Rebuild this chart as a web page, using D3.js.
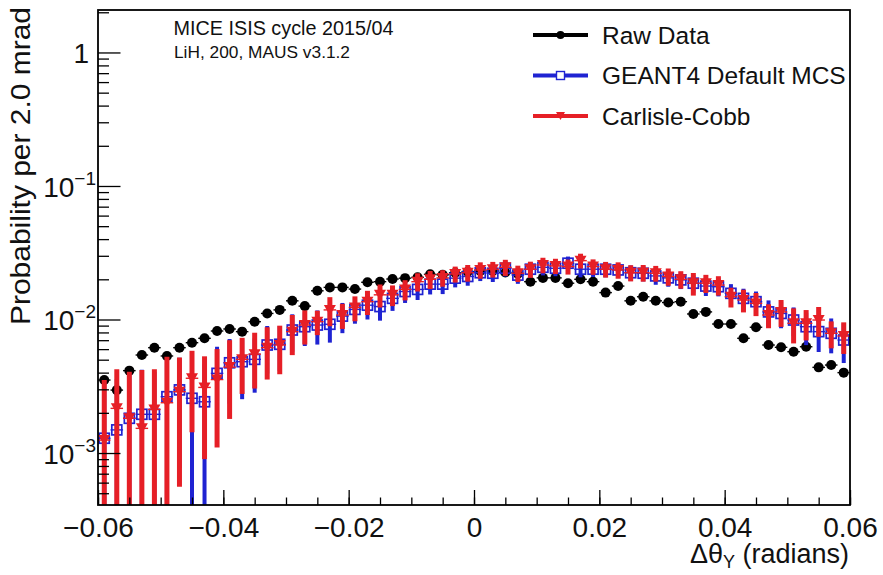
<!DOCTYPE html>
<html>
<head>
<meta charset="utf-8">
<script src="https://d3js.org/d3.v7.min.js"></script>
<style>
  body { margin: 0; background: #fff; }
  text { font-family: "Liberation Sans", Arial, Helvetica, sans-serif; }
</style>
</head>
<body>
<svg id="chart" width="883" height="575"></svg>
<script>
// bins: 60 bins of 2 mrad between -0.06 and 0.06
const binLow = -0.06, binWidth = 0.002, nBins = 60;
const binCenters = d3.range(nBins).map(i => binLow + binWidth * (i + 0.5));

// Raw Data
const rawData = [
  3.52e-3, 2.96e-3, 4.14e-3, 5.42e-3, 6.15e-3, 5.33e-3, 6.15e-3, 6.70e-3, 7.23e-3, 8.20e-3,
  8.49e-3, 8.11e-3, 9.63e-3, 1.11e-2, 1.18e-2, 1.38e-2, 1.26e-2, 1.64e-2, 1.74e-2, 1.74e-2,
  1.69e-2, 1.90e-2, 1.92e-2, 2.01e-2, 2.04e-2, 2.07e-2, 2.18e-2, 2.16e-2, 2.24e-2, 2.28e-2,
  2.31e-2, 2.31e-2, 2.25e-2, 2.20e-2, 1.92e-2, 2.05e-2, 2.05e-2, 1.87e-2, 2.00e-2, 1.92e-2,
  1.59e-2, 1.78e-2, 1.38e-2, 1.48e-2, 1.38e-2, 1.34e-2, 1.36e-2, 1.10e-2, 1.14e-2, 9.25e-3,
  9.25e-3, 7.23e-3, 8.75e-3, 6.44e-3, 6.19e-3, 5.74e-3, 6.25e-3, 4.38e-3, 4.56e-3, 4.00e-3
];

// GEANT4 Default MCS
const geantData = [
  1.29e-3, 1.49e-3, 1.82e-3, 1.95e-3, 1.95e-3, 2.64e-3, 2.97e-3, 2.57e-3, 2.42e-3, 3.95e-3,
  4.74e-3, 4.83e-3, 5.03e-3, 6.44e-3, 6.52e-3, 8.34e-3, 8.83e-3, 9.09e-3, 9.21e-3, 1.06e-2,
  1.19e-2, 1.28e-2, 1.25e-2, 1.44e-2, 1.62e-2, 1.68e-2, 1.84e-2, 1.84e-2, 2.04e-2, 2.10e-2,
  2.24e-2, 2.22e-2, 2.42e-2, 2.15e-2, 2.38e-2, 2.46e-2, 2.42e-2, 2.64e-2, 2.38e-2, 2.38e-2,
  2.38e-2, 2.35e-2, 2.24e-2, 2.22e-2, 2.12e-2, 2.05e-2, 1.98e-2, 1.87e-2, 1.78e-2, 1.76e-2,
  1.57e-2, 1.44e-2, 1.36e-2, 1.14e-2, 1.11e-2, 9.91e-3, 8.83e-3, 8.11e-3, 7.88e-3, 7.02e-3
];
const geantErr = [
  2.2e-3, 2.1e-3, 2.2e-3, 2.25e-3, 2.1e-3, 2.3e-3, 2.2e-3, 2.3e-3, 2.2e-3, 2.3e-3,
  2.4e-3, 2.3e-3, 2.2e-3, 2.5e-3, 2.4e-3, 2.6e-3, 2.5e-3, 2.6e-3, 2.5e-3, 2.7e-3,
  2.6e-3, 2.8e-3, 2.7e-3, 2.8e-3, 2.9e-3, 2.8e-3, 3.0e-3, 2.9e-3, 3.0e-3, 3.1e-3,
  3.0e-3, 3.1e-3, 3.2e-3, 3.0e-3, 3.1e-3, 3.2e-3, 3.1e-3, 3.2e-3, 3.1e-3, 3.0e-3,
  3.1e-3, 3.0e-3, 3.0e-3, 2.9e-3, 3.0e-3, 2.9e-3, 2.9e-3, 2.8e-3, 2.8e-3, 2.7e-3,
  2.7e-3, 2.6e-3, 2.6e-3, 2.5e-3, 2.5e-3, 2.4e-3, 2.4e-3, 2.4e-3, 2.3e-3, 2.3e-3
];

// Carlisle-Cobb
const ccData = [
  1.25e-3, 2.16e-3, 1.82e-3, 1.53e-3, 2.12e-3, 2.38e-3, 2.88e-3, 3.63e-3, 3.10e-3, 3.55e-3,
  4.40e-3, 5.03e-3, 5.50e-3, 6.15e-3, 6.44e-3, 8.11e-3, 9.09e-3, 9.63e-3, 1.18e-2, 1.08e-2,
  1.23e-2, 1.36e-2, 1.53e-2, 1.53e-2, 1.68e-2, 1.92e-2, 2.00e-2, 2.05e-2, 2.19e-2, 2.24e-2,
  2.35e-2, 2.38e-2, 2.46e-2, 2.22e-2, 2.38e-2, 2.56e-2, 2.52e-2, 2.49e-2, 2.76e-2, 2.49e-2,
  2.38e-2, 2.35e-2, 2.24e-2, 2.24e-2, 2.22e-2, 2.10e-2, 2.00e-2, 1.87e-2, 1.87e-2, 1.81e-2,
  1.48e-2, 1.40e-2, 1.32e-2, 1.08e-2, 1.14e-2, 9.37e-3, 9.37e-3, 9.91e-3, 7.88e-3, 7.52e-3
];
const ccErr = [
  2.27e-3, 2.08e-3, 2.24e-3, 2.65e-3, 2.12e-3, 2.88e-3, 2.32e-3, 2.2e-3, 2.2e-3, 2.45e-3,
  2.6e-3, 2.26e-3, 2.46e-3, 2.6e-3, 2.55e-3, 2.7e-3, 2.6e-3, 2.0e-3, 2.9e-3, 2.3e-3,
  2.6e-3, 2.8e-3, 3.0e-3, 2.7e-3, 2.9e-3, 3.0e-3, 3.1e-3, 2.9e-3, 3.0e-3, 3.2e-3,
  3.3e-3, 3.2e-3, 3.4e-3, 3.1e-3, 3.3e-3, 3.4e-3, 3.3e-3, 3.2e-3, 3.5e-3, 3.3e-3,
  3.2e-3, 3.3e-3, 3.1e-3, 3.2e-3, 3.0e-3, 3.1e-3, 3.0e-3, 3.6e-3, 2.9e-3, 3.0e-3,
  2.5e-3, 2.7e-3, 2.6e-3, 2.2e-3, 2.6e-3, 2.75e-3, 2.4e-3, 2.5e-3, 1.8e-3, 2.0e-3
];

const xTicks = [-0.06, -0.04, -0.02, 0, 0.02, 0.04, 0.06];
const yTicks = [1e-3, 1e-2, 1e-1, 1];
const legendNames = ['Raw Data', 'GEANT4 Default MCS', 'Carlisle-Cobb'];

const red = '#e61f26', blue = '#1f23d2';

const frame = {left: 98, right: 850, top: 10, bottom: 505};
const svg = d3.select('#chart');

const x = d3.scaleLinear().domain([-0.06, 0.06]).range([frame.left, frame.right]);
const y = d3.scaleLog().domain([4.08e-4, 2.08]).range([frame.bottom, frame.top]);

svg.append('clipPath').attr('id', 'plotclip')
   .append('rect')
   .attr('x', frame.left).attr('y', frame.top)
   .attr('width', frame.right - frame.left).attr('height', frame.bottom - frame.top);

const plot = svg.append('g').attr('clip-path', 'url(#plotclip)');

// draw one series: vertical errors, x errors, markers
function drawSeries(vals, errs, color, barWidth, marker){
  const g = plot.append('g');
  const pts = vals.map((v, i) => ({x: binCenters[i], v: v, e: errs ? errs[i] : 0}));
  if(errs){
    g.selectAll('line.ey').data(pts).enter().append('line')
     .attr('x1', d => x(d.x)).attr('x2', d => x(d.x))
     .attr('y1', d => y(d.v + d.e))
     .attr('y2', d => d.v - d.e > 1e-5 ? y(d.v - d.e) : frame.bottom + 5)
     .attr('stroke', color).attr('stroke-width', barWidth);
  }
  g.selectAll('line.ex').data(pts).enter().append('line')
   .attr('x1', d => x(d.x - binWidth / 2)).attr('x2', d => x(d.x + binWidth / 2))
   .attr('y1', d => y(d.v)).attr('y2', d => y(d.v))
   .attr('stroke', color).attr('stroke-width', 1.4);
  g.selectAll('.mk').data(pts).enter().append('g')
   .attr('transform', d => `translate(${x(d.x)},${y(d.v)})`)
   .each(function(){ marker(d3.select(this), color); });
}

const dot = (s, c) => s.append('circle').attr('r', 5).attr('fill', c);
const square = (s, c) => s.append('rect').attr('x', -5).attr('y', -5)
                          .attr('width', 10).attr('height', 10)
                          .attr('fill', 'none').attr('stroke', c).attr('stroke-width', 1.7);
const tri = (s, c) => s.append('path').attr('d', 'M-6,-5L6,-5L0,5.5Z').attr('fill', c);

drawSeries(rawData, null, '#000', 0, dot);
drawSeries(geantData, geantErr, blue, 4, square);
drawSeries(ccData, ccErr, red, 5, tri);

// frame
svg.append('rect')
   .attr('x', frame.left).attr('y', frame.top)
   .attr('width', frame.right - frame.left).attr('height', frame.bottom - frame.top)
   .attr('fill', 'none').attr('stroke', '#000').attr('stroke-width', 1.8);

// x axis, ticks pointing inwards
const xMinor = d3.range(-0.06, 0.0601, 0.005);
const xAxisG = svg.append('g').attr('transform', `translate(0,${frame.bottom})`);
xAxisG.append('g')
      .call(d3.axisBottom(x).tickValues(xMinor).tickSize(-7.5).tickFormat(''))
      .call(g => g.select('.domain').remove());
xAxisG.append('g')
      .call(d3.axisBottom(x).tickValues(xTicks).tickSize(-15).tickPadding(12)
              .tickFormat(d => d === 0 ? '0' : d3.format('.2f')(d)))
      .call(g => g.select('.domain').remove())
      .call(g => g.selectAll('text').attr('font-size', 28).attr('fill', '#111')
                  .attr('font-family', '"Liberation Sans", Arial, sans-serif'));
xAxisG.selectAll('line').attr('stroke-width', 1.3);

// y axis, log ticks
const yMinor = [];
[-4, -3, -2, -1, 0].forEach(p => {
  for(let k = 2; k <= 9; k++){
    const v = k * Math.pow(10, p);
    if(v >= y.domain()[0] && v <= y.domain()[1]) yMinor.push(v);
  }
});
const yAxisG = svg.append('g').attr('transform', `translate(${frame.left},0)`);
yAxisG.append('g')
      .call(d3.axisLeft(y).tickValues(yMinor).tickSize(-11).tickFormat(''))
      .call(g => g.select('.domain').remove());
yAxisG.append('g')
      .call(d3.axisLeft(y).tickValues(yTicks).tickSize(-22.5).tickFormat(''))
      .call(g => g.select('.domain').remove());
yAxisG.selectAll('line').attr('stroke-width', 1.3);

// y tick labels, ROOT style powers of ten
yTicks.forEach(v => {
  const p = Math.round(Math.log10(v));
  if(p === 0){
    svg.append('text').attr('x', 89).attr('y', y(v)).attr('dy', '0.36em')
       .attr('text-anchor', 'end').attr('font-size', 28).attr('fill', '#111').text('1');
  } else {
    const t = svg.append('text').attr('x', 96).attr('y', y(v)).attr('dy', '0.38em')
                 .attr('text-anchor', 'end').attr('font-size', 28).attr('fill', '#111');
    t.append('tspan').text('10');
    t.append('tspan').attr('font-size', 19).attr('dy', -12).text('\u2212' + (-p));
  }
});

// axis titles
svg.append('text')
   .attr('transform', 'translate(29.5,325) rotate(-90)')
   .attr('font-size', 27).attr('fill', '#111')
   .attr('textLength', 318).attr('lengthAdjust', 'spacingAndGlyphs')
   .text('Probability per 2.0 mrad');

const xt = svg.append('text').attr('x', 849).attr('y', 563)
              .attr('text-anchor', 'end').attr('font-size', 27).attr('fill', '#111');
xt.append('tspan').text('\u0394\u03b8');
xt.append('tspan').attr('font-size', 18).attr('dy', 5).text('Y');
xt.append('tspan').attr('dy', -5).text(' (radians)');

// header texts
svg.append('text').attr('x', 173.5).attr('y', 35)
   .attr('font-size', 20.5).attr('fill', '#111')
   .attr('textLength', 220).attr('lengthAdjust', 'spacingAndGlyphs')
   .text('MICE ISIS cycle 2015/04');
svg.append('text').attr('x', 174).attr('y', 57.5)
   .attr('font-size', 17).attr('fill', '#111')
   .attr('textLength', 176).attr('lengthAdjust', 'spacingAndGlyphs')
   .text('LiH, 200, MAUS v3.1.2');

// legend
const legendColors = ['#000', blue, red];
const legendMarkers = [
  s => s.append('circle').attr('r', 4).attr('fill', '#000'),
  s => s.append('rect').attr('x', -4).attr('y', -4).attr('width', 8).attr('height', 8)
        .attr('fill', '#fff').attr('stroke', blue).attr('stroke-width', 1.4),
  s => s.append('path').attr('d', 'M-4.5,-4L4.5,-4L0,4Z').attr('fill', red)
];
const legend = svg.append('g');
legendNames.forEach((name, i) => {
  const ly = 35 + i * 40.5;
  legend.append('line').attr('x1', 533).attr('x2', 588).attr('y1', ly).attr('y2', ly)
        .attr('stroke', legendColors[i]).attr('stroke-width', 4);
  legendMarkers[i](legend.append('g').attr('transform', `translate(560.5,${ly})`));
  legend.append('text').attr('x', 602).attr('y', ly + 8.8)
        .attr('font-size', 24.5).attr('fill', '#111').text(name);
});
</script>
</body>
</html>
